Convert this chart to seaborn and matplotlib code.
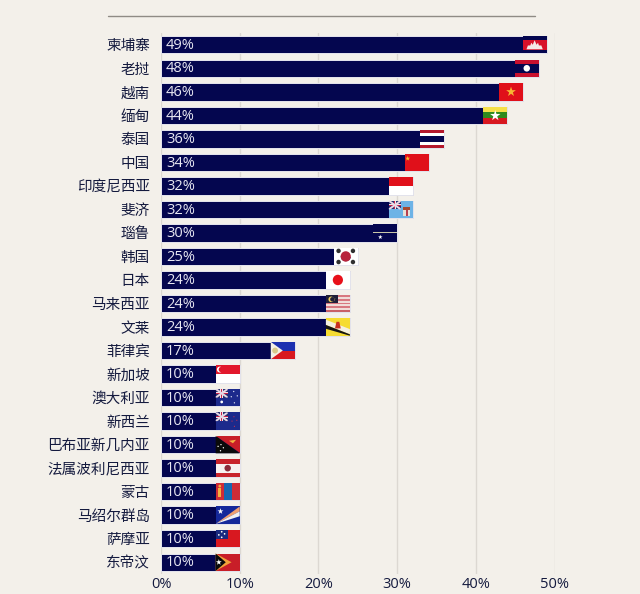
#!/usr/bin/env python3
# -*- coding: utf-8 -*-
"""
plot.py

Purpose:
    Horizontal percent bars with a small flag at the end of each bar
"""
###########################################################
### Imports
import pandas as pd
import seaborn as sns
import matplotlib.pyplot as plt
from matplotlib.lines import Line2D
from matplotlib.patches import Rectangle, Polygon, Ellipse
from matplotlib.transforms import Affine2D

###########################################################
### Data
countries = ['柬埔寨', '老挝', '越南', '缅甸', '泰国', '中国', '印度尼西亚', '斐济',
             '瑙鲁', '韩国', '日本', '马来西亚', '文莱', '菲律宾', '新加坡', '澳大利亚',
             '新西兰', '巴布亚新几内亚', '法属波利尼西亚', '蒙古', '马绍尔群岛', '萨摩亚', '东帝汶']
shares = [49, 48, 46, 44, 36, 34, 32, 32, 30, 25, 24, 24, 24, 17,
          10, 10, 10, 10, 10, 10, 10, 10, 10]
ticks = [0, 10, 20, 30, 40, 50]

# Magic numbers
NAVY = '#04064f'
BG = '#f3f0ea'
TEXT = '#141a3e'
RED = '#e0101a'
BLUE = '#1c2a8c'
FLAG_W = 3.05   # percent points
BAR_H = 0.74


###########################################################
### Flag helpers, local coords run 0-1 from the flag's lower left
class Flag:
    def __init__(self, ax, value, row, width=FLAG_W):
        self.ax = ax
        self.tr = (Affine2D().scale(width, -BAR_H)
                   .translate(value - width, row + BAR_H / 2) + ax.transData)
        self.aspect = 17 / (width * 7.87)

    def rect(self, x, y, w, h, c):
        self.ax.add_patch(Rectangle((x, y), w, h, fc=c, ec='none', transform=self.tr, zorder=4))

    def poly(self, pts, c):
        self.ax.add_patch(Polygon(pts, closed=True, fc=c, ec='none', transform=self.tr, zorder=5))

    def dot(self, x, y, r, c):
        self.ax.add_patch(Ellipse((x, y), 2 * r * self.aspect, 2 * r, fc=c, ec='none',
                                  transform=self.tr, zorder=6))

    def stripes(self, cols, sizes=None):
        sizes = sizes or [1 / len(cols)] * len(cols)
        y = 1.0
        for c, s in zip(cols, sizes):
            y -= s
            self.rect(0, y, 1, s, c)

    def star(self, x, y, r, c):
        pts = [(x + r * self.aspect * sin5[i], y + r * cos5[i]) for i in range(10)]
        self.poly(pts, c)

    def union_jack(self):
        # small jack in the upper left corner
        self.rect(0, 0.5, 0.5, 0.5, '#27306f')
        self.poly([(0, 0.5), (0.07, 0.5), (0.5, 0.93), (0.5, 1), (0.43, 1), (0, 0.57)], '#e8d8e4')
        self.poly([(0, 1), (0.07, 1), (0.5, 0.57), (0.5, 0.5), (0.43, 0.5), (0, 0.93)], '#e8d8e4')
        self.rect(0, 0.69, 0.5, 0.12, '#f3e6ea')
        self.rect(0.2, 0.5, 0.1, 0.5, '#f3e6ea')
        self.rect(0, 0.72, 0.5, 0.06, '#c8204a')
        self.rect(0.23, 0.5, 0.04, 0.5, '#c8204a')


# ten-point star outline, unit radius
sin5 = [0, 0.225, 0.951, 0.363, 0.588, 0, -0.588, -0.363, -0.951, -0.225]
cos5 = [1, 0.309, 0.309, -0.118, -0.809, -0.382, -0.809, -0.118, 0.309, 0.309]


def cambodia(f):
    f.stripes([NAVY, '#d8102a', NAVY], [0.2, 0.6, 0.2])
    f.poly([(0.16, 0.24), (0.84, 0.24), (0.78, 0.46), (0.68, 0.46), (0.64, 0.62), (0.58, 0.5),
            (0.5, 0.76), (0.42, 0.5), (0.36, 0.62), (0.32, 0.46), (0.22, 0.46)], '#f4e8e8')


def laos(f):
    f.stripes(['#c8102e', NAVY, '#c8102e'], [0.25, 0.5, 0.25])
    f.dot(0.5, 0.5, 0.19, 'white')


def vietnam(f):
    f.stripes([RED])
    f.star(0.5, 0.5, 0.3, '#f7b733')


def myanmar(f):
    f.stripes(['#f6e04a', '#2f8a1e', '#d81820'])
    f.star(0.5, 0.48, 0.32, 'white')


def thailand(f):
    f.stripes(['#b5182c', 'white', NAVY, 'white', '#b5182c'], [1 / 6, 1 / 6, 2 / 6, 1 / 6, 1 / 6])


def china(f):
    f.stripes([RED])
    f.star(0.13, 0.72, 0.15, '#f5c030')


def indonesia(f):
    f.stripes([RED, 'white'])


def fiji(f):
    f.stripes(['#6db3e6'])
    f.union_jack()
    f.rect(0.6, 0.12, 0.3, 0.5, '#e9e2da')
    f.rect(0.6, 0.48, 0.3, 0.14, '#a84a30')
    f.rect(0.72, 0.12, 0.06, 0.36, '#b84050')


def nauru(f):
    f.rect(0, 0, 1, 1, NAVY)
    f.rect(0, 0.47, 1, 0.06, '#c8c6a8')
    f.star(0.3, 0.26, 0.14, 'white')


def korea(f):
    f.stripes(['white'])
    f.dot(0.5, 0.5, 0.3, '#b8243c')
    f.poly([(0.28, 0.52), (0.42, 0.44), (0.58, 0.5), (0.72, 0.46), (0.66, 0.3), (0.5, 0.22),
            (0.34, 0.3)], '#28409a')
    for x, y in [(0.2, 0.82), (0.8, 0.82), (0.2, 0.18), (0.8, 0.18)]:
        f.dot(x, y, 0.13, '#303030')


def japan(f):
    f.stripes(['white'])
    f.dot(0.5, 0.5, 0.3, '#e8101a')


def malaysia(f):
    f.stripes(['#d87880', '#f0dcd8'] * 4 + ['#c86068'])
    f.rect(0, 0.5, 0.5, 0.5, '#20203a')
    f.dot(0.22, 0.74, 0.16, '#f0d060')
    f.dot(0.27, 0.74, 0.13, '#20203a')
    f.star(0.33, 0.74, 0.11, '#f0d060')


def brunei(f):
    f.stripes(['#f6dc32'])
    f.poly([(0, 0.92), (0, 0.62), (1, 0.08), (1, 0.38)], '#f4f0e0')
    f.poly([(0, 0.62), (0, 0.4), (1, -0.0), (1, 0.08)], '#141414')
    f.poly([(0.38, 0.42), (0.62, 0.42), (0.56, 0.8), (0.44, 0.8)], '#c83020')


def philippines(f):
    f.rect(0, 0.5, 1, 0.5, '#1c30b0')
    f.rect(0, 0, 1, 0.5, '#d81820')
    f.poly([(0, 0), (0.5, 0.5), (0, 1)], '#f4f0e6')
    f.dot(0.18, 0.5, 0.17, '#d8c88a')


def singapore(f):
    f.stripes(['#e2182c', 'white'])
    f.dot(0.17, 0.76, 0.17, 'white')
    f.dot(0.23, 0.76, 0.15, '#e2182c')


def australia(f):
    f.stripes([BLUE])
    f.union_jack()
    f.dot(0.25, 0.25, 0.08, 'white')
    for x, y in [(0.75, 0.85), (0.9, 0.6), (0.65, 0.55), (0.78, 0.2)]:
        f.dot(x, y, 0.04, '#d8dcf0')


def new_zealand(f):
    f.stripes([BLUE])
    f.union_jack()
    for x, y in [(0.76, 0.75), (0.88, 0.55), (0.68, 0.5), (0.78, 0.2)]:
        f.dot(x, y, 0.035, '#c83050')


def png(f):
    f.poly([(0, 0), (1, 0), (0, 1)], '#0a0a0a')
    f.poly([(0, 1), (1, 1), (1, 0)], '#c81e28')
    f.poly([(0.55, 0.72), (0.85, 0.78), (0.72, 0.58)], '#f2b040')
    for x, y in [(0.2, 0.15), (0.32, 0.32), (0.1, 0.4), (0.22, 0.5)]:
        f.dot(x, y, 0.04, 'white')


def polynesia(f):
    f.stripes(['#c8242c', '#f6f2f0', '#c8242c'], [0.25, 0.5, 0.25])
    f.dot(0.5, 0.5, 0.19, '#8a2c3a')
    f.rect(0.4, 0.38, 0.2, 0.1, '#2c4a98')


def mongolia(f):
    f.rect(0, 0, 1 / 3, 1, '#cf2b36')
    f.rect(1 / 3, 0, 1 / 3, 1, '#1766b0')
    f.rect(2 / 3, 0, 1 / 3, 1, '#cf2b36')
    f.rect(0.11, 0.18, 0.12, 0.55, '#f2b040')
    f.dot(0.17, 0.82, 0.08, '#f2b040')


def marshall(f):
    f.stripes(['#14289a'])
    f.poly([(0, 0), (1, 1), (1, 0.72)], '#f0a070')
    f.poly([(0, 0), (1, 0.72), (1, 0.44)], '#f4f2f0')
    f.star(0.2, 0.72, 0.18, 'white')


def samoa(f):
    f.stripes(['#d81820'])
    f.rect(0, 0.5, 0.5, 0.5, '#1a2a80')
    for x, y in [(0.25, 0.9), (0.13, 0.72), (0.37, 0.78), (0.25, 0.58)]:
        f.dot(x, y, 0.05, 'white')


def timor(f):
    f.stripes(['#c81e28'])
    f.poly([(0, 0), (0.66, 0.5), (0, 1)], '#f2a23a')
    f.poly([(0, 0), (0.42, 0.5), (0, 1)], '#0a0a0a')
    f.star(0.13, 0.5, 0.18, 'white')


flag_painters = [cambodia, laos, vietnam, myanmar, thailand, china, indonesia, fiji, nauru,
                 korea, japan, malaysia, brunei, philippines, singapore, australia,
                 new_zealand, png, polynesia, mongolia, marshall, samoa, timor]


###########################################################
### main
def main():
    sns.set_style('white')
    plt.rcParams['font.family'] = ['Noto Sans CJK SC', 'DejaVu Sans']

    df = pd.DataFrame({'country': countries, 'share': shares})

    fig = plt.figure(figsize=(6.4, 5.94), dpi=100, facecolor=BG)
    ax = fig.add_axes([161 / 640, 1 - 574 / 594, 393.5 / 640, 541 / 594], facecolor=BG)

    sns.barplot(data=df, x='share', y='country', color=NAVY, saturation=1,
                width=BAR_H, ax=ax, zorder=3, edgecolor='#e6e6ee', linewidth=0.7)
    ax.set_xlim(0, 50)
    ax.set_ylim(len(countries) - 0.5, -0.5)
    ax.set(xlabel='', ylabel='')

    # Grid and axes
    ax.set_xticks(ticks, [str(t) + '%' for t in ticks])
    ax.grid(axis='x', color='#dcd8d2', lw=1)
    ax.set_axisbelow(True)
    sns.despine(ax=ax, left=True, bottom=True, top=True, right=True)
    ax.tick_params(axis='y', length=0, pad=8, labelsize=10.5, labelcolor=TEXT)
    ax.tick_params(axis='x', length=0, pad=2.5, labelcolor=TEXT)
    for lab in ax.get_yticklabels():
        lab.set_fontweight('medium')
    # the CJK family carries a tall line box, Open Sans sits clear of the bottom edge
    for lab in ax.get_xticklabels():
        lab.set_family(['Open Sans', 'DejaVu Sans'])
        lab.set_fontsize(10.5)

    # Percent labels and flags
    for i, (val, paint) in enumerate(zip(shares, flag_painters)):
        ax.text(0.65, i + 0.03, str(val) + '%', color='#e8e8f2', fontsize=10.5,
                va='center', ha='left', zorder=7, family=['Open Sans', 'DejaVu Sans'])
        paint(Flag(ax, val, i))

    # Rule under the missing header
    fig.add_artist(Line2D([108 / 640, 535 / 640], [1 - 16 / 594] * 2, color='#8f8b85', lw=1))

    plt.savefig('out.png', dpi=100, facecolor=BG)


###########################################################
### start main
if __name__ == "__main__":
    main()
